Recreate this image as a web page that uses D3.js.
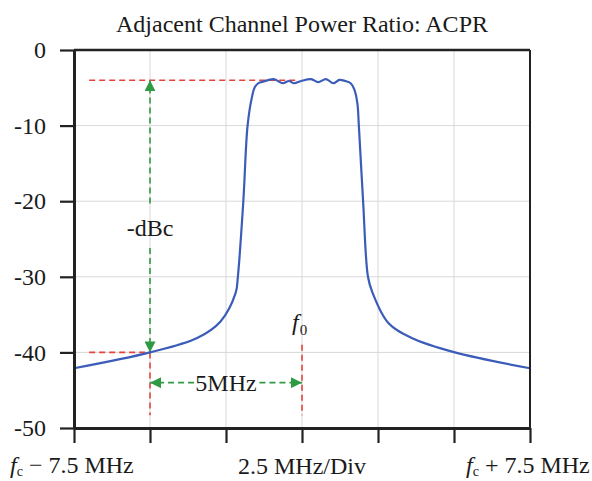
<!DOCTYPE html>
<html>
<head>
<meta charset="utf-8">
<script src="https://cdn.jsdelivr.net/npm/d3@7.9.0/dist/d3.min.js"></script>
<style>
  body { margin: 0; background: #fff; }
  svg { display: block; font-family: "Liberation Serif", "DejaVu Serif", serif; fill: #1a1a1a; }
</style>
</head>
<body>
<svg id="chart" width="592" height="481"></svg>
<script>
// frequency offset from fc (MHz) and level (dB)
const freqs = [-7.5, -5, -3.45, -2.68, -2.18, -2.11, -1.93, -1.79, -1.65, -1.55, -1.42, -1.29,
  -0.93, -0.63, -0.43, -0.26, -0.03, 0.30, 0.53, 0.79, 1.03, 1.23, 1.42, 1.60, 1.72,
  1.82, 1.87, 2.01, 2.17, 2.31, 2.84, 3.61, 5.03, 7.5];
const levels = [-42.1, -40, -38.1, -35.9, -32.1, -30, -20, -10, -6.3, -4.9, -4.35, -4.2,
  -3.85, -4.4, -4.1, -4.4, -4.1, -3.85, -4.25, -3.85, -4.4, -3.95, -4.1, -4.4, -5.2,
  -7, -10, -20, -30, -32, -36.1, -38.1, -40, -42.1];
const xTicks = [-7.5, -5, -2.5, 0, 2.5, 5, 7.5];
const yTicks = [0, -10, -20, -30, -40, -50];

const svg = d3.select('#chart');
const pLeft = 74, pRight = 530, pTop = 50, pBottom = 428;

const x = d3.scaleLinear().domain([-7.5, 7.5]).range([pLeft, pRight]);
const y = d3.scaleLinear().domain([-50, 0]).range([pBottom, pTop]);

// grid
svg.append('g')
  .selectAll('line')
  .data(xTicks.slice(1, -1))
  .join('line')
  .attr('x1', d => x(d)).attr('x2', d => x(d))
  .attr('y1', pTop).attr('y2', pBottom)
  .attr('stroke', '#d8d8d8').attr('stroke-width', 1);
svg.append('g')
  .selectAll('line')
  .data(yTicks.slice(1, -1))
  .join('line')
  .attr('x1', pLeft).attr('x2', pRight)
  .attr('y1', d => y(d)).attr('y2', d => y(d))
  .attr('stroke', '#d8d8d8').attr('stroke-width', 1);

// annotations behind the trace
const red = '#e4443c', green = '#2e9a44';
function dashed(x1, y1, x2, y2, color) {
  svg.append('line')
    .attr('x1', x(x1)).attr('y1', y(y1)).attr('x2', x(x2)).attr('y2', y(y2))
    .attr('stroke', color).attr('stroke-width', 1.6)
    .attr('stroke-dasharray', '6,4');
}
dashed(-7, -4, -0.2, -4, red);
dashed(-7, -40, -5, -40, red);
dashed(-5, -40, -5, -48.3, red);
dashed(0, -39, 0, -48.3, red);

// green arrows
const defs = svg.append('defs');
defs.append('marker')
  .attr('id', 'arr')
  .attr('viewBox', '0 0 10 10')
  .attr('refX', 10).attr('refY', 5)
  .attr('markerWidth', 11).attr('markerHeight', 11)
  .attr('markerUnits', 'userSpaceOnUse')
  .attr('orient', 'auto')
  .append('path')
  .attr('d', 'M0,0 L10,5 L0,10 Z')
  .attr('fill', green);

function arrow(x1, y1, x2, y2) {
  svg.append('line')
    .attr('x1', x(x1)).attr('y1', y(y1)).attr('x2', x(x2)).attr('y2', y(y2))
    .attr('stroke', green).attr('stroke-width', 1.6)
    .attr('stroke-dasharray', '6,4')
    .attr('marker-end', 'url(#arr)');
}
arrow(-5, -20.3, -5, -4);
arrow(-5, -26.2, -5, -40);
arrow(-3.55, -44, -5, -44);
arrow(-1.4, -44, 0, -44);

svg.append('text')
  .attr('x', x(-5)).attr('y', y(-23.5) + 8)
  .attr('text-anchor', 'middle')
  .attr('font-size', 24)
  .text('-dBc');
svg.append('text')
  .attr('x', x(-2.5)).attr('y', y(-44) + 8)
  .attr('text-anchor', 'middle')
  .attr('font-size', 24)
  .text('5MHz');

const f0 = svg.append('text')
  .attr('x', x(0) - 10).attr('y', 330)
  .attr('font-size', 24);
f0.append('tspan').attr('font-style', 'italic').text('f');
f0.append('tspan').attr('font-size', 15).attr('dy', 5).attr('dx', 1).text('0');

// trace
const pts = freqs.map((f, i) => [f, levels[i]]);
const line = d3.line()
  .x(d => x(d[0]))
  .y(d => y(d[1]))
  .curve(d3.curveCatmullRom.alpha(0.5));
svg.append('path')
  .datum(pts)
  .attr('d', line)
  .attr('fill', 'none')
  .attr('stroke', '#3b5cb8')
  .attr('stroke-width', 2.2);

// frame
svg.append('line').attr('x1', pLeft).attr('x2', pRight).attr('y1', pTop).attr('y2', pTop)
  .attr('stroke', '#222').attr('stroke-width', 2.5);
svg.append('line').attr('x1', pRight).attr('x2', pRight).attr('y1', pTop).attr('y2', pBottom)
  .attr('stroke', '#222').attr('stroke-width', 2);

// axes
const yAxis = d3.axisLeft(y).tickValues(yTicks).tickSize(14).tickSizeOuter(0)
  .tickPadding(14).tickFormat(d => String(d));
const gy = svg.append('g').attr('transform', `translate(${pLeft},0)`).call(yAxis);
const xAxis = d3.axisBottom(x).tickValues(xTicks).tickSize(15).tickSizeOuter(0).tickFormat('');
const gx = svg.append('g').attr('transform', `translate(0,${pBottom})`).call(xAxis);
[gy, gx].forEach(g => {
  g.attr('font-family', '"Liberation Serif", serif');
  g.select('.domain').attr('stroke', '#222').attr('stroke-width', 3);
  g.selectAll('.tick line').attr('stroke', '#222').attr('stroke-width', 2.2);
});
gy.selectAll('.tick text')
  .attr('font-size', 24)
  .attr('fill', '#1a1a1a');

// x labels
function fcLabel(xpos, sign) {
  const t = svg.append('text').attr('x', xpos).attr('y', 473).attr('font-size', 24);
  t.append('tspan').attr('font-style', 'italic').text('f');
  t.append('tspan').attr('font-size', 14).attr('dy', 3).text('c');
  t.append('tspan').attr('dy', -3).text(` ${sign} 7.5 MHz`);
}
fcLabel(10, '\u2212');
fcLabel(466, '+');
svg.append('text')
  .attr('x', x(0)).attr('y', 474)
  .attr('text-anchor', 'middle')
  .attr('font-size', 24)
  .text('2.5 MHz/Div');

svg.append('text')
  .attr('x', x(0)).attr('y', 32)
  .attr('text-anchor', 'middle')
  .attr('font-size', 24)
  .text('Adjacent Channel Power Ratio: ACPR');
</script>
</body>
</html>
